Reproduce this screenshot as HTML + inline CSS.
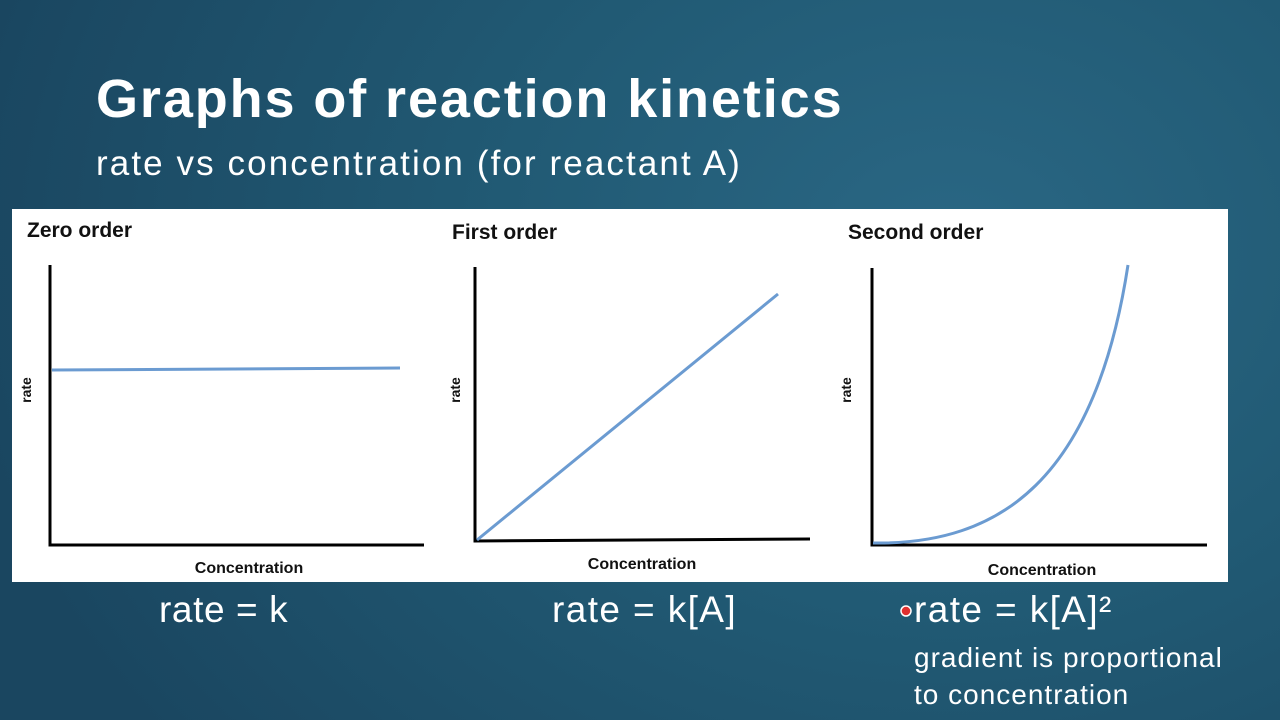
<!DOCTYPE html>
<html><head><meta charset="utf-8"><style>
html,body{margin:0;padding:0}
body{width:1280px;height:720px;overflow:hidden;position:relative;font-family:"Liberation Sans",sans-serif;
background:radial-gradient(ellipse 1000px 800px at 950px 250px,#2a6784 0%,#215a74 45%,#1a4660 100%);}
.t{position:absolute;color:#fff;white-space:nowrap}
</style></head><body>
<div class="t" style="left:96px;top:68px;font-size:54px;font-weight:bold;letter-spacing:1.9px;">Graphs of reaction kinetics</div>
<div class="t" style="left:96px;top:144px;font-size:35px;letter-spacing:2.1px;">rate vs concentration (for reactant A)</div>
<svg style="position:absolute;left:0;top:0" width="1280" height="720">
<rect x="12" y="209" width="1216" height="373" fill="#fff"/>
<g font-family="Liberation Sans,sans-serif" font-weight="bold" fill="#111">
<text x="27" y="237" font-size="21">Zero order</text>
<text x="452" y="239" font-size="21">First order</text>
<text x="848" y="239" font-size="21">Second order</text>
<text x="249" y="573" font-size="16" text-anchor="middle">Concentration</text>
<text x="642" y="569" font-size="16" text-anchor="middle">Concentration</text>
<text x="1042" y="575" font-size="16" text-anchor="middle">Concentration</text>
<text transform="translate(31,390) rotate(-90)" font-size="14" text-anchor="middle">rate</text>
<text transform="translate(460,390) rotate(-90)" font-size="14" text-anchor="middle">rate</text>
<text transform="translate(851,390) rotate(-90)" font-size="14" text-anchor="middle">rate</text>
</g>
<g stroke="#000" stroke-width="3" fill="none">
<path d="M50 265 V545 H424"/>
<path d="M475 267 V541 L810 539"/>
<path d="M872 268 V545 H1207"/>
</g>
<g stroke="#6b9bd1" stroke-width="3" fill="none">
<path d="M52 370 L400 368"/>
<path d="M477 540 L778 294"/>
<path d="M873 543 C1000 545 1095 480 1128 265"/>
</g>
<circle cx="906" cy="611" r="5" fill="#e03030" stroke="#fff" stroke-width="1.5"/>
</svg>
<div class="t" style="left:159px;top:589px;font-size:37px;letter-spacing:0.6px;">rate = k</div>
<div class="t" style="left:552px;top:589px;font-size:37px;letter-spacing:1.4px;">rate = k[A]</div>
<div class="t" style="left:914px;top:589px;font-size:37px;letter-spacing:1.4px;">rate = k[A]²</div>
<div class="t" style="left:914px;top:639px;font-size:28px;line-height:37px;letter-spacing:1px;">gradient is proportional<br>to concentration</div>
</body></html>
